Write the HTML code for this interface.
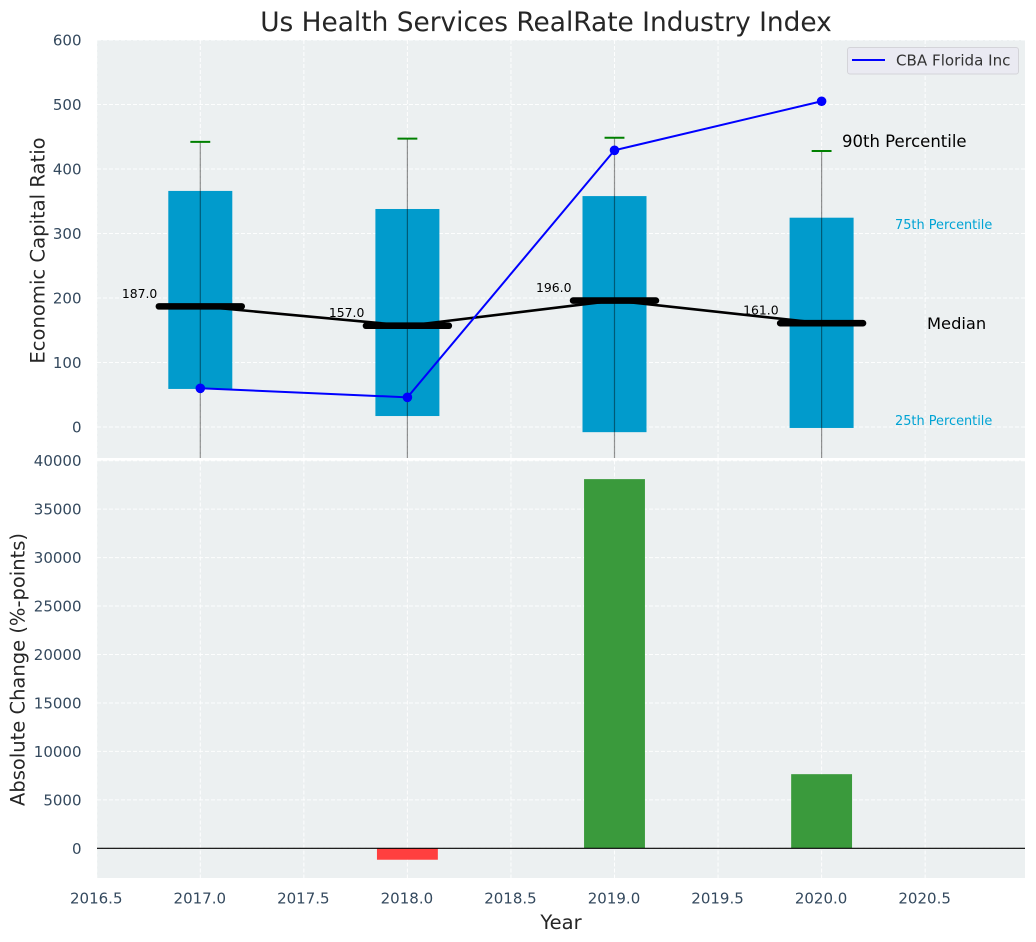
<!DOCTYPE html>
<html lang="en">
<head>
<meta charset="utf-8">
<title>Us Health Services RealRate Industry Index</title>
<style>
html,body{margin:0;padding:0;background:#fff;width:1036px;height:942px;overflow:hidden}
svg{display:block;font-family:"DejaVu Sans","Liberation Sans",sans-serif}
</style>
</head>
<body>
<svg id="chart" xmlns="http://www.w3.org/2000/svg" width="1036" height="942" viewBox="0 0 1036 942">
  <rect x="0" y="0" width="1036" height="942" fill="#ffffff"/>
  <rect x="97" y="40" width="928" height="418" fill="#ecf0f1"/>
  <rect x="97" y="460.5" width="928" height="417.5" fill="#ecf0f1"/>
  <g id="grid"></g>
  <g id="ticks"></g>
  <defs>
    <clipPath id="topClip"><rect x="97" y="40" width="928" height="418"/></clipPath>
    <clipPath id="bottomClip"><rect x="97" y="460.5" width="928" height="417.5"/></clipPath>
  </defs>
  <g id="boxes" clip-path="url(#topClip)"></g>
  <g id="bars" clip-path="url(#bottomClip)"></g>
  <g id="annot"></g>
  <text x="546" y="31" font-size="26.4" fill="#262626" text-anchor="middle">Us Health Services RealRate Industry Index</text>
  <text transform="translate(44.5,250.5) rotate(-90)" font-size="19.6" fill="#262626" text-anchor="middle">Economic Capital Ratio</text>
  <text transform="translate(24.5,669.5) rotate(-90)" font-size="19.5" fill="#262626" text-anchor="middle">Absolute Change (%-points)</text>
  <text x="561" y="929" font-size="19.5" fill="#262626" text-anchor="middle">Year</text>
  <g>
    <rect x="847.5" y="47.5" width="171" height="26.5" rx="2.5" fill="#eaeaf2" stroke="#d4d4d9" stroke-width="1"/>
    <line x1="852" y1="60" x2="885" y2="60" stroke="#0000ff" stroke-width="2"/>
    <text x="896" y="65.5" font-size="15.1" fill="#333333">CBA Florida Inc</text>
  </g>
</svg>
<script>
var years = [2017, 2018, 2019, 2020];
var p25 = [59, 17, -8, -1.5];
var p75 = [366, 338, 358, 324.5];
var p90 = [442, 447, 448.5, 428];
var p10 = [-120, -110, -115, -105];
var medians = [187, 157, 196, 161];
var medianLabels = ["187.0", "157.0", "196.0", "161.0"];
var company = [60, 46, 429, 505];
var changeValues = [0, -1180, 38100, 7650];
var xTicks = [2016.5, 2017, 2017.5, 2018, 2018.5, 2019, 2019.5, 2020, 2020.5];
var xTickLabels = ["2016.5", "2017.0", "2017.5", "2018.0", "2018.5", "2019.0", "2019.5", "2020.0", "2020.5"];
var topYTicks = [0, 100, 200, 300, 400, 500, 600];
var bottomYTicks = [0, 5000, 10000, 15000, 20000, 25000, 30000, 35000, 40000];

function xs(v) { return 200.3 + (v - 2017) * 207.1; }
function yTop(v) { return 427 - v * 0.645; }
function yBottom(v) { return 848.3 - v * 0.00969; }

var NS = "http://www.w3.org/2000/svg";
function mk(tag, parent, attrs) {
  var n = document.createElementNS(NS, tag);
  for (var k in attrs) { n.setAttribute(k, attrs[k]); }
  document.getElementById(parent).appendChild(n);
  return n;
}
var el;
var gridStyle = { stroke: "#ffffff", "stroke-width": 1, "stroke-dasharray": "4 2", "stroke-opacity": 0.9 };
function gridAttrs(a) { for (var k in gridStyle) { a[k] = gridStyle[k]; } return a; }

xTicks.forEach(function (t, i) {
  el = mk("line", "grid", gridAttrs({ x1: xs(t), x2: xs(t), y1: 40, y2: 458 }));
  
  
  el = mk("line", "grid", gridAttrs({ x1: xs(t), x2: xs(t), y1: 460.5, y2: 878 }));
  
  
  el = mk("text", "ticks", { x: xs(t) - 0.5, y: 903.5, "font-size": 15, fill: "#34495e", "text-anchor": "middle" });
  el.textContent = xTickLabels[i];
  
  
});
topYTicks.forEach(function (t) {
  el = mk("line", "grid", gridAttrs({ x1: 97, x2: 1025, y1: yTop(t), y2: yTop(t) }));
  
  
  el = mk("text", "ticks", { x: 81.5, y: yTop(t) + 5.5, "font-size": 15, fill: "#34495e", "text-anchor": "end" });
  el.textContent = String(t);
  
  
});
bottomYTicks.forEach(function (t) {
  el = mk("line", "grid", gridAttrs({ x1: 97, x2: 1025, y1: yBottom(t), y2: yBottom(t) }));
  
  
  el = mk("text", "ticks", { x: 81.5, y: yBottom(t) + 5.5, "font-size": 15, fill: "#34495e", "text-anchor": "end" });
  el.textContent = String(t);
  
  
});

var boxHalf = 0.1545, capHalf = 0.048, medianHalf = 0.2, barHalf = 0.147;

years.forEach(function (y, i) {
  el = mk("rect", "boxes", { x: xs(y - boxHalf), y: yTop(p75[i]), width: xs(y + boxHalf) - xs(y - boxHalf), height: yTop(p25[i]) - yTop(p75[i]), fill: "#019bcc" });
  
  
});
var medianPts = years.map(function (y, i) { return xs(y) + "," + yTop(medians[i]); }).join(" ");
el = mk("polyline", "boxes", { points: medianPts, fill: "none", stroke: "#000000", "stroke-width": 2.6 });


years.forEach(function (y, i) {
  el = mk("line", "boxes", { x1: xs(y - medianHalf), x2: xs(y + medianHalf), y1: yTop(medians[i]), y2: yTop(medians[i]), stroke: "#000000", "stroke-width": 6.6, "stroke-linecap": "round" });
  
  
  el = mk("line", "boxes", { x1: xs(y), x2: xs(y), y1: yTop(p90[i]), y2: yTop(p10[i]), stroke: "#000000", "stroke-width": 1.2, "stroke-opacity": 0.42 });
  
  
  el = mk("line", "boxes", { x1: xs(y - capHalf), x2: xs(y + capHalf), y1: yTop(p90[i]), y2: yTop(p90[i]), stroke: "#008000", "stroke-width": 2 });
  
  
});
var companyPts = years.map(function (y, i) { return xs(y) + "," + yTop(company[i]); }).join(" ");
el = mk("polyline", "boxes", { points: companyPts, fill: "none", stroke: "#0000ff", "stroke-width": 2 });


years.forEach(function (y, i) {
  el = mk("circle", "boxes", { cx: xs(y), cy: yTop(company[i]), r: 4.8, fill: "#0000ff" });
  
  
  el = mk("text", "annot", { x: xs(y) - 43, y: yTop(medians[i]) - 8.5, "font-size": 12.4, fill: "#000000", "text-anchor": "end" });
  el.textContent = medianLabels[i];
  
  
});

years.forEach(function (y, i) {
  var v = changeValues[i];
  if (v === 0) { return; }
  var top = Math.min(yBottom(v), yBottom(0));
  var h = Math.abs(yBottom(v) - yBottom(0));
  el = mk("rect", "bars", { x: xs(y - barHalf), y: top, width: xs(y + barHalf) - xs(y - barHalf), height: h, fill: v < 0 ? "#ff3f3f" : "#3a9a3c" });
  
  
});
el = mk("line", "bars", { x1: 97, x2: 1025, y1: yBottom(0), y2: yBottom(0), stroke: "#000000", "stroke-width": 1.2 });



el = mk("text", "annot", { x: 842, y: 147, "font-size": 16.5, fill: "#000000" });
el.textContent = "90th Percentile";


el = mk("text", "annot", { x: 895, y: 229, "font-size": 12.9, fill: "#00a3d4" });
el.textContent = "75th Percentile";


el = mk("text", "annot", { x: 927, y: 329, "font-size": 16.3, fill: "#000000" });
el.textContent = "Median";


el = mk("text", "annot", { x: 895, y: 425, "font-size": 12.9, fill: "#00a3d4" });
el.textContent = "25th Percentile";


</script>
</body>
</html>
